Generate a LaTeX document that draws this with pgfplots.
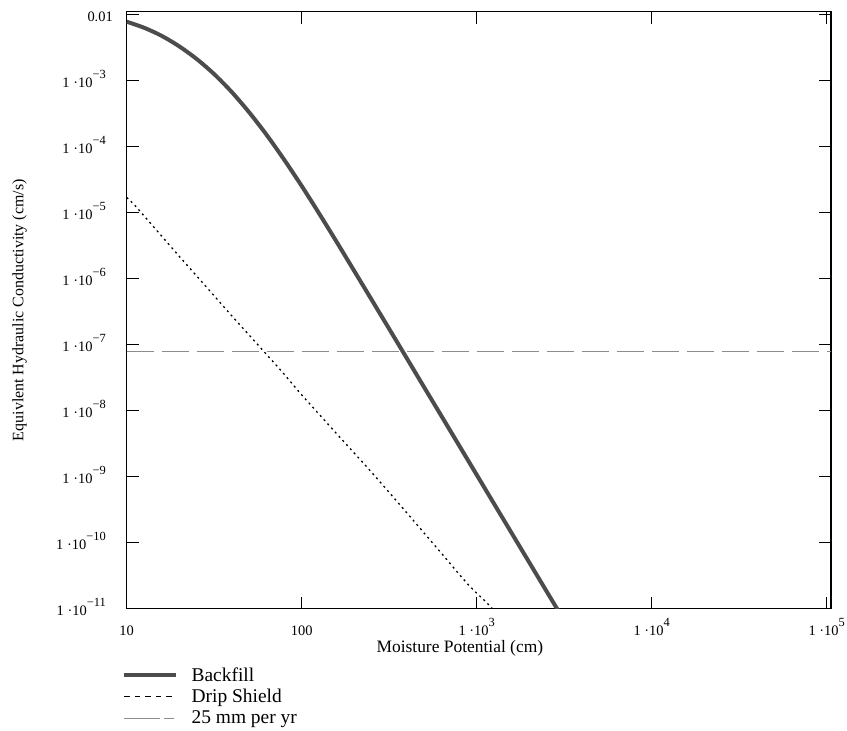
\documentclass[border=0pt]{standalone}
\usepackage{fontspec}
\setmainfont{Liberation Serif}
\usepackage{pgfplots}
\pgfplotsset{compat=1.18}
\newcommand\sci[1]{1\ ·10\raisebox{8.5bp}{\fontsize{12.5}{12.5}\selectfont #1}}
\newcommand\scy[1]{\sci{#1}\kern7bp}
\begin{document}
\begin{tikzpicture}
\begin{axis}[
  scale only axis, width=704.3bp, height=597bp,
  xmode=log, ymode=log,
  xmin=10, xmax=1.0583e5, ymin=1e-11, ymax=0.0111,
  axis line style={line width=1.1bp},
  tick style={line width=1.1bp, black},
  tick align=inside, major tick length=12bp, minor tick length=0pt,
  xtick={10,100,1000,10000,100000},
  xticklabels={10,100,\sci{3},\sci{4},\sci{5}},
  ytick={1e-2,1e-3,1e-4,1e-5,1e-6,1e-7,1e-8,1e-9,1e-10,1e-11},
  yticklabels={0.01,\scy{−3},\scy{−4},\scy{−5},\scy{−6},\scy{−7},\scy{−8},\scy{−9},\scy{−10},\scy{−11}},
  xticklabel style={inner sep=0pt, anchor=base, yshift=-26.5bp, font=\fontsize{14.5}{14.5}\selectfont},
  yticklabel style={inner sep=0pt, anchor=base east, xshift=-13.7bp, yshift=-6.5bp, font=\fontsize{14.5}{14.5}\selectfont},
  xlabel={Moisture Potential (cm)},
  ylabel={Equivlent Hydraulic Conductivity (cm/s)},
  xlabel style={at={(axis description cs:0.473,-0.0737)}, anchor=base, inner sep=0pt, font=\fontsize{17.5}{17.5}\selectfont},
  ylabel style={at={(axis description cs:-0.1468,0.5)}, anchor=base, inner sep=0pt, font=\fontsize{16}{16}\selectfont},
  legend style={at={(-0.011,-0.0926)}, anchor=north west, draw=none, fill=none,
    font=\fontsize{19.5}{19.5}\selectfont, column sep=12bp, row sep=3.5bp,
    nodes={inner sep=1.5bp}},
  legend cell align=left,
  legend image code/.code={\draw[#1] (0bp,0bp) -- (52bp,0bp);},
]
\addlegendimage{black!70, line width=4bp}
\addlegendentry{Backfill}
\addlegendimage{black, line width=1.1bp, dash pattern=on 5.5bp off 5bp}
\addlegendentry{Drip Shield}
\addlegendimage{black!45, line width=0.9bp, dash pattern=on 36bp off 4bp on 10bp off 10bp}
\addlegendentry{25 mm per yr}

\addplot[forget plot, black!45, line width=0.9bp, dash pattern=on 27bp off 8bp]
  coordinates {(10,7.92e-8) (1.0583e5,7.92e-8)};

\addplot[forget plot, black, line width=1.3bp, dash pattern=on 2bp off 3.6bp, smooth]
  coordinates {
  (10,1.698e-5) (10.96,1.349e-5) (12.59,8.91e-6) (15.85,4.42e-6) (19.95,2.19e-6)
  (25.12,1.096e-6) (31.62,5.50e-7) (39.81,2.75e-7) (50.12,1.396e-7) (63.10,7.08e-8)
  (79.43,3.57e-8) (100,1.738e-8) (158.5,4.47e-9) (251.2,1.161e-9) (398.1,2.85e-10)
  (631.0,6.84e-11) (891.3,2.34e-11) (1122,1.288e-11) (1259,9.33e-12)
  };

\addplot[forget plot, black!70, line width=4bp, smooth]
  coordinates {
  (10,7.83e-3) (12.59,6.33e-3) (15.85,4.78e-3) (19.95,3.32e-3) (25.12,2.13e-3)
  (31.62,1.256e-3) (39.81,6.75e-4) (50.12,3.31e-4) (63.10,1.503e-4) (79.43,6.35e-5)
  (100,2.54e-5) (125.9,9.69e-6) (158.5,3.60e-6) (199.5,1.315e-6) (251.2,4.78e-7)
  (316.2,1.734e-7) (398.1,6.27e-8) (501.2,2.26e-8) (631.0,8.18e-9) (794.3,2.96e-9)
  (1000,1.069e-9) (1259,3.86e-10) (1585,1.396e-10) (1995,5.05e-11) (2512,1.824e-11)
  (3162,6.59e-12)
  };
\end{axis}
\pgfresetboundingbox
\useasboundingbox (-126.7bp,-122.3bp) rectangle (720.3bp,608.7bp);
\end{tikzpicture}
\end{document}
